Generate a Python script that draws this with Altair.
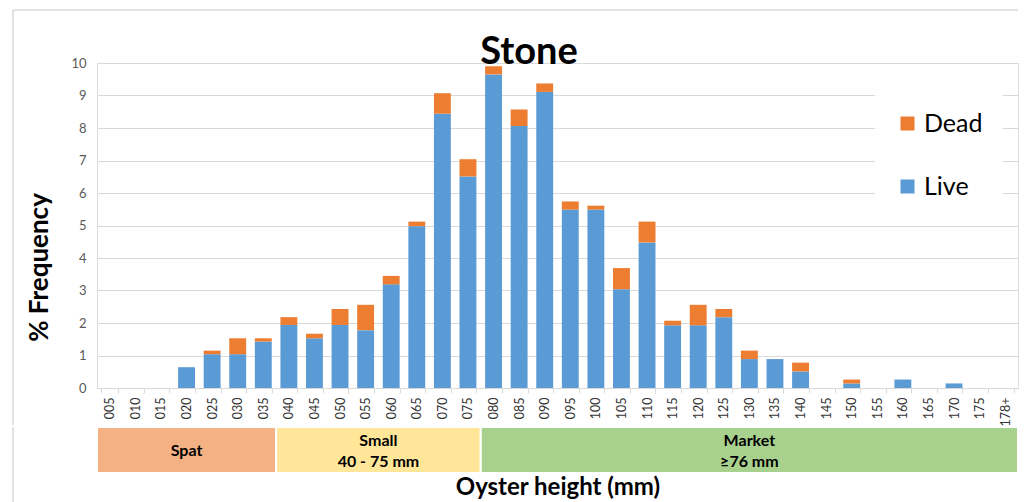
import altair as alt
import pandas as pd

# ---- data ----
chart_title = "Stone"
sizes = ["005", "010", "015", "020", "025", "030", "035", "040", "045", "050",
         "055", "060", "065", "070", "075", "080", "085", "090", "095", "100",
         "105", "110", "115", "120", "125", "130", "135", "140", "145", "150",
         "155", "160", "165", "170", "175", "178+"]
live = [0, 0, 0, 0.64, 1.04, 1.04, 1.43, 1.94, 1.53, 1.94,
        1.78, 3.19, 4.98, 8.44, 6.51, 9.65, 8.06, 9.11, 5.49, 5.49,
        3.04, 4.48, 1.93, 1.93, 2.18, 0.89, 0.89, 0.51, 0, 0.14,
        0, 0.26, 0, 0.14, 0, 0]
dead = [0, 0, 0, 0, 0.11, 0.49, 0.10, 0.24, 0.14, 0.49,
        0.78, 0.26, 0.14, 0.63, 0.53, 0.25, 0.51, 0.26, 0.25, 0.12,
        0.65, 0.64, 0.14, 0.63, 0.25, 0.26, 0, 0.27, 0, 0.12,
        0, 0, 0, 0, 0, 0]

band_line1 = ["Spat", "Small", "Market"]
band_line2 = ["", "40 - 75 mm", "≥76 mm"]
band_start = [0, 7, 15]
band_end = [7, 15, 36]
band_colors = ["#F4B183", "#FFE699", "#A9D18E"]

FONT = "Lato"
BLUE = "#5B9BD5"
ORANGE = "#ED7D31"
GRID = "#D9D9D9"

rows = []
for i, s in enumerate(sizes):
    rows.append({"size": s, "status": "Live", "ord": 0, "pct": live[i]})
    rows.append({"size": s, "status": "Dead", "ord": 1, "pct": dead[i]})
df = pd.DataFrame(rows)

W = 921
H = 325

bars = alt.Chart(df).mark_bar().encode(
    x=alt.X("size:N", sort=sizes,
            scale=alt.Scale(paddingInner=0.34, paddingOuter=0.17),
            axis=alt.Axis(title=None, labelAngle=270, labelFontSize=12.5,
                          labelFont=FONT, labelColor="#333333",
                          labelPadding=4, tickBand="extent", tickSize=5,
                          tickColor=GRID, domainColor=GRID, grid=False)),
    y=alt.Y("pct:Q", stack="zero",
            scale=alt.Scale(domain=[0, 10], nice=False),
            axis=alt.Axis(values=list(range(11)), title="% Frequency",
                          titleFont=FONT, titleFontSize=26, titleFontWeight="bold",
                          titleColor="black", titlePadding=18, titleY=204,
                          labelFont=FONT, labelFontSize=13, labelColor="#595959",
                          labelPadding=11, domain=False, ticks=False,
                          grid=True, gridColor=GRID)),
    color=alt.Color("status:N",
                    scale=alt.Scale(domain=["Dead", "Live"], range=[ORANGE, BLUE]),
                    legend=alt.Legend(title=None, orient="none", legendX=778, legendY=28,
                                      padding=20, fillColor="white",
                                      symbolType="square", symbolSize=196,
                                      symbolStrokeWidth=0, labelFont=FONT,
                                      labelFontSize=25, labelColor="black",
                                      labelOffset=4, rowPadding=37)),
    order=alt.Order("ord:Q", sort="ascending"),
)

one = pd.DataFrame({"t": [chart_title]})
left_border = alt.Chart(one).mark_rule(color=GRID, strokeWidth=1.5).encode(
    x=alt.value(-84), y=alt.value(-53), y2=alt.value(362))
top_border = alt.Chart(one).mark_rule(color=GRID, strokeWidth=1.5).encode(
    x=alt.value(-84), x2=alt.value(921), y=alt.value(-53))
title_mark = alt.Chart(one).mark_text(font=FONT, fontSize=38, fontWeight="bold",
                                      color="black", align="center",
                                      baseline="alphabetic").encode(
    x=alt.value(432), y=alt.value(1), text="t:N")

top = alt.layer(bars, left_border, top_border, title_mark).properties(width=W, height=H)

bdf = pd.DataFrame({"line1": band_line1, "line2": band_line2, "start": band_start,
                    "end": band_end, "color": band_colors})
bdf["mid"] = (bdf["start"] + bdf["end"]) / 2

xsc = alt.Scale(domain=[0, 36], nice=False, zero=False)
rects = alt.Chart(bdf).mark_rect(stroke="white", strokeWidth=2).encode(
    x=alt.X("start:Q", scale=xsc,
            axis=alt.Axis(title="Oyster height (mm)", titleFont=FONT, titleFontSize=24,
                          titleFontWeight="bold", titleColor="black", titlePadding=2,
                          labels=False, ticks=False, domain=False, grid=False)),
    x2="end:Q",
    y=alt.value(0), y2=alt.value(46),
    fill=alt.Fill("color:N", scale=None),
)
txt_style = dict(font=FONT, fontSize=16, fontWeight="bold", color="black",
                 baseline="middle", align="center")
t_single = alt.Chart(bdf).transform_filter("datum.line2 == ''").mark_text(**txt_style).encode(
    x=alt.X("mid:Q", scale=xsc), y=alt.value(24), text="line1:N")
t_first = alt.Chart(bdf).transform_filter("datum.line2 != ''").mark_text(**txt_style).encode(
    x=alt.X("mid:Q", scale=xsc), y=alt.value(14), text="line1:N")
t_second = alt.Chart(bdf).transform_filter("datum.line2 != ''").mark_text(**txt_style).encode(
    x=alt.X("mid:Q", scale=xsc), y=alt.value(35), text="line2:N")
left_border2 = alt.Chart(one).mark_rule(color=GRID, strokeWidth=1.5).encode(
    x=alt.value(-84), y=alt.value(0), y2=alt.value(76))

bottom = alt.layer(rects, t_single, t_first, t_second, left_border2).properties(width=W, height=46)

chart = alt.vconcat(top, bottom, spacing=-3).properties(
    padding={"left": 3, "top": 0, "right": 0, "bottom": 0}
).configure_view(stroke=None).configure(background="white")

chart.save("out.html", embed_options={"renderer": "svg", "actions": False})
